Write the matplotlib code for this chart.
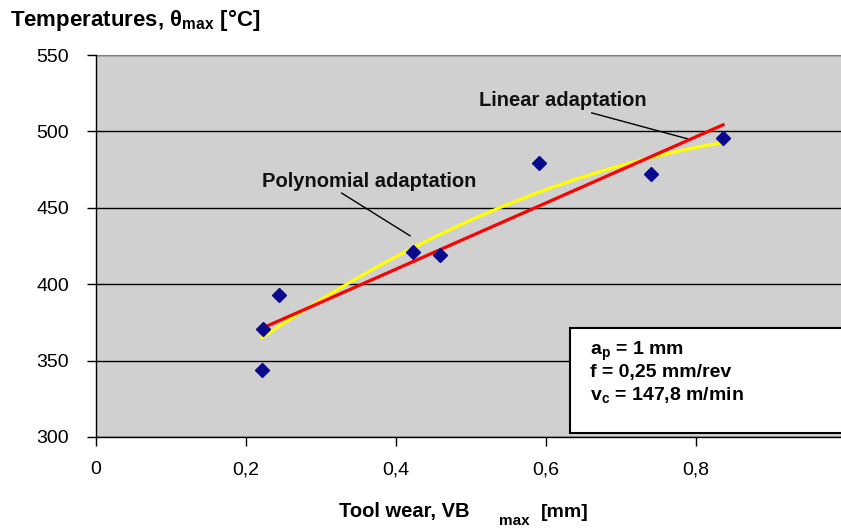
import matplotlib.pyplot as plt
import numpy as np
from matplotlib.patches import Rectangle

plt.rcParams['font.family'] = ['Liberation Sans', 'DejaVu Sans']
plt.rcParams['mathtext.fontset'] = 'custom'
plt.rcParams['mathtext.rm'] = 'Liberation Sans'
plt.rcParams['mathtext.bf'] = 'Liberation Sans:bold'

# measured points: tool wear VB_max [mm] vs max temperature [°C]
wear = [0.221, 0.244, 0.223, 0.422, 0.459, 0.591, 0.740, 0.836]
temp = [344, 393, 371, 421, 419, 479, 472, 496]

x_ticks = [0, 0.2, 0.4, 0.6, 0.8]
x_labels = ['0', '0,2', '0,4', '0,6', '0,8']
y_ticks = [300, 350, 400, 450, 500, 550]

fig = plt.figure(figsize=(8.41, 5.28), dpi=100)
ax = fig.add_axes([96/841, 1-437/528, 1-96/841, (437-55)/528])
ax.set_facecolor('#D0D0D0')

# trend lines (excel style fits of the measured points)
xs = np.linspace(min(wear), max(wear), 100)
lin = np.polyfit(wear, temp, 1)
poly = np.polyfit(wear, temp, 2)
ax.plot(xs, np.polyval(poly, xs), color='#FFFF00', lw=2.3, zorder=3)
ax.plot(xs, np.polyval(lin, xs), color='#FF0000', lw=2.3, zorder=4)
ax.plot(wear, temp, 'D', color='#0A0A8C', ms=7.5, zorder=5, ls='none')

ax.set_xlim(0, 745/750)
ax.set_ylim(300, 550)
ax.set_xticks(x_ticks)
ax.set_xticklabels(x_labels)
ax.set_yticks(y_ticks)
ax.tick_params(labelsize=14, length=6.5, width=1, color='black')
ax.tick_params(axis='y', pad=13)
ax.tick_params(axis='x', pad=11)
ax.grid(axis='y', color='black', lw=1)
ax.set_axisbelow(True)
for s in ['top', 'right']:
    ax.spines[s].set_visible(False)
ax.spines['left'].set_linewidth(1)
ax.spines['bottom'].set_linewidth(1)
ax.axhline(550, color='#999999', lw=1.2)

# annotations
ax.text(0.511, 520.5, 'Linear adaptation', fontsize=14.5, fontweight='bold',
        ha='left', va='center', color='#111111')
ax.plot([0.661, 0.789], [512.1, 495.1], color='black', lw=1)
ax.text(0.222, 467, 'Polynomial adaptation', fontsize=14.5, fontweight='bold',
        ha='left', va='center', color='#111111')
ax.plot([0.3276, 0.4187], [459.6, 431.7], color='black', lw=1)

# parameters box
box = Rectangle((0.632, 302.3), 0.5, 69.3, facecolor='white', edgecolor='black',
                lw=1.5, zorder=6, clip_on=False)
ax.add_patch(box)
ax.text(0.659, 356, r'a$_{\mathbf{p}}$ = 1 mm', fontsize=14, fontweight='bold',
        va='center', zorder=7)
ax.text(0.659, 342, 'f = 0,25 mm/rev', fontsize=14, fontweight='bold',
        va='center', zorder=7)
ax.text(0.659, 327, r'v$_{\mathbf{c}}$ = 147,8 m/min', fontsize=14, fontweight='bold',
        va='center', zorder=7)

# axis titles
fig.text(10/841, 1-20/528, r'Temperatures, θ$_{\mathbf{max}}$ [°C]', fontsize=16,
         fontweight='bold', va='center', ha='left')
fig.text(339/841, 1-517/528, 'Tool wear, VB', fontsize=14.5, fontweight='bold',
         va='baseline', ha='left')
fig.text(499/841, 1-525/528, 'max', fontsize=11, fontweight='bold',
         va='baseline', ha='left')
fig.text(541/841, 1-517/528, '[mm]', fontsize=14, fontweight='bold',
         va='baseline', ha='left')

fig.savefig('out.png', dpi=100)
